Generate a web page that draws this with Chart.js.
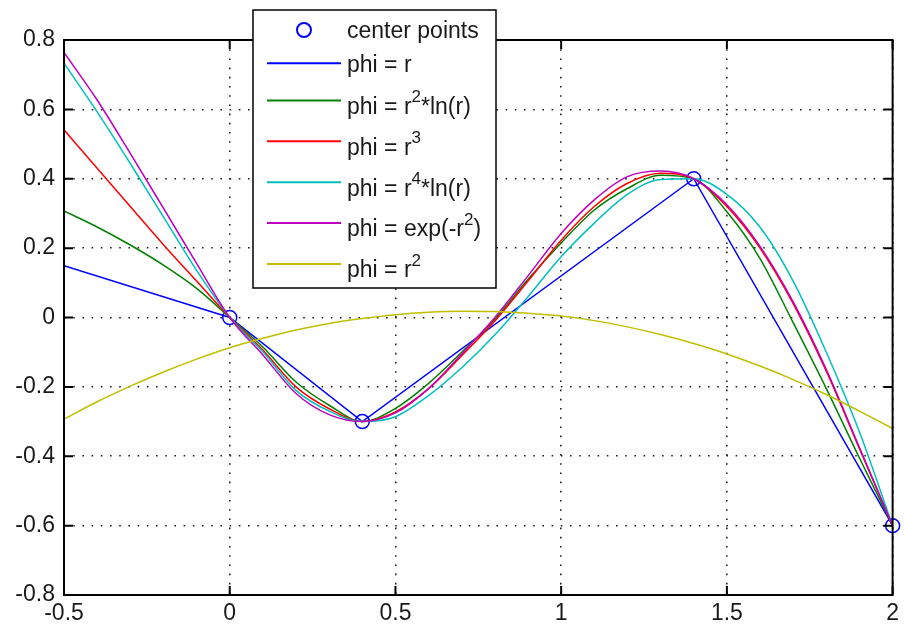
<!DOCTYPE html>
<html>
<head>
<meta charset="utf-8">
<script src="https://cdn.jsdelivr.net/npm/chart.js@4.4.0/dist/chart.umd.min.js"></script>
<style>
  html, body { margin: 0; padding: 0; background: #fff; }
  #wrap { width: 904px; height: 626px; }
</style>
</head>
<body>
<div id="wrap"><canvas id="rbfChart" width="904" height="626"></canvas></div>
<script>
// ─── data ─────────────────────────────────────────────────
const xVals = [-0.5, -0.4, -0.3, -0.2, -0.1, 0, 0.1, 0.2, 0.3, 0.4, 0.5, 0.6, 0.7,
               0.8, 0.9, 1.0, 1.1, 1.2, 1.3, 1.4, 1.5, 1.6, 1.7, 1.8, 1.9, 2.0];

const centerX = [0, 0.4, 1.4, 2];
const centerY = [0, -0.3, 0.4, -0.6];

// phi = r is piecewise linear between its breakpoints
const linX = [-0.5, 0, 0.4, 1.4, 2];
const linY = [0.149, 0, -0.3, 0.4, -0.6];

const tpsY   = [0.307, 0.261, 0.209, 0.151, 0.084, 0, -0.085, -0.186, -0.253, -0.3, -0.262, -0.19, -0.1,
                -0.005, 0.11, 0.215, 0.31, 0.372, 0.41, 0.4, 0.305, 0.17, -0.015, -0.205, -0.405, -0.6];
const cubeY  = [0.541, 0.43, 0.32, 0.21, 0.105, 0, -0.094, -0.2, -0.263, -0.3, -0.272, -0.205, -0.11,
                -0.01, 0.105, 0.223, 0.32, 0.387, 0.416, 0.4, 0.32, 0.2, 0.04, -0.155, -0.378, -0.6];
const r4lnY  = [0.733, 0.593, 0.444, 0.29, 0.136, 0, -0.099, -0.21, -0.27, -0.3, -0.286, -0.225, -0.145,
                -0.05, 0.06, 0.175, 0.272, 0.355, 0.398, 0.4, 0.355, 0.26, 0.105, -0.1, -0.33, -0.6];
const gaussY = [0.764, 0.627, 0.473, 0.315, 0.156, 0, -0.108, -0.219, -0.28, -0.3, -0.275, -0.205, -0.105,
                0.0, 0.12, 0.242, 0.339, 0.406, 0.422, 0.4, 0.325, 0.205, 0.045, -0.15, -0.375, -0.6];
const quadY  = [-0.293, -0.243, -0.198, -0.157, -0.12, -0.087, -0.06, -0.036, -0.017, -0.003, 0.008, 0.015, 0.018,
                0.017, 0.012, 0.004, -0.009, -0.027, -0.049, -0.075, -0.105, -0.14, -0.179, -0.222, -0.27, -0.32];

const legendLabels = ['center points', 'phi = r', 'phi = r^{2}*ln(r)', 'phi = r^{3}',
                      'phi = r^{4}*ln(r)', 'phi = exp(-r^{2})', 'phi = r^{2}'];
const colors = ['#0000ff', '#0000ff', '#008000', '#ff0000', '#00bfbf', '#bf00bf', '#bfbf00'];

const xTicks = [-0.5, 0, 0.5, 1, 1.5, 2];
const yTicks = [-0.8, -0.6, -0.4, -0.2, 0, 0.2, 0.4, 0.6, 0.8];

const FONT = '"Liberation Sans", Arial, sans-serif';
const TXT = '#1a1a1a';

const pts = (xs, ys) => xs.map((x, i) => ({ x, y: ys[i] }));
const curve = (ys, i) => ({
  label: legendLabels[i], data: pts(xVals, ys), borderColor: colors[i],
  borderWidth: 1.5, pointRadius: 0, cubicInterpolationMode: 'monotone', order: 7 - i
});

// box, inward ticks and legend with superscripts
const matlabAxes = {
  id: 'matlabAxes',
  afterDraw(chart) {
    const { ctx, chartArea: a, scales: { x, y } } = chart;
    ctx.save();
    ctx.strokeStyle = '#000';
    ctx.lineWidth = 2;
    ctx.setLineDash([]);
    ctx.strokeRect(a.left, a.top, a.right - a.left, a.bottom - a.top);
    const tl = 9;
    ctx.beginPath();
    xTicks.forEach(v => {
      const px = x.getPixelForValue(v);
      ctx.moveTo(px, a.bottom); ctx.lineTo(px, a.bottom - tl);
      ctx.moveTo(px, a.top); ctx.lineTo(px, a.top + tl);
    });
    yTicks.forEach(v => {
      const py = y.getPixelForValue(v);
      ctx.moveTo(a.left, py); ctx.lineTo(a.left + tl, py);
      ctx.moveTo(a.right, py); ctx.lineTo(a.right - tl, py);
    });
    ctx.stroke();

    // legend
    const L = 253, T = 10, R = 496, B = 288;
    ctx.fillStyle = '#fff';
    ctx.fillRect(L, T, R - L, B - T);
    ctx.lineWidth = 1.5;
    ctx.strokeRect(L, T, R - L, B - T);

    let rowY = 30, prevSup = false;
    legendLabels.forEach((lab, i) => {
      const sup = lab.includes('^');
      if (i > 0) rowY += 33.3 + (prevSup ? 3.8 : 0) + (sup ? 3.8 : 0);
      prevSup = sup;
      ctx.strokeStyle = colors[i];
      ctx.lineWidth = 2;
      if (i === 0) {
        ctx.beginPath(); ctx.arc(304, rowY, 7, 0, Math.PI * 2); ctx.stroke();
      } else {
        ctx.beginPath(); ctx.moveTo(267, rowY); ctx.lineTo(341, rowY); ctx.stroke();
      }
      // text, with ^{..} parts raised
      ctx.fillStyle = TXT;
      ctx.textBaseline = 'middle';
      ctx.textAlign = 'left';
      const mid = rowY + (sup ? 7 : 2);
      let tx = 347;
      lab.split(/(\^\{[^}]*\})/).forEach(part => {
        if (!part) return;
        if (part.startsWith('^{')) {
          const s = part.slice(2, -1);
          ctx.font = '17px ' + FONT;
          ctx.fillText(s, tx, mid - 10);
          tx += ctx.measureText(s).width;
        } else {
          ctx.font = '23px ' + FONT;
          ctx.fillText(part, tx, mid);
          tx += ctx.measureText(part).width;
        }
      });
    });
    ctx.restore();
  }
};

new Chart(document.getElementById('rbfChart'), {
  type: 'line',
  data: {
    datasets: [
      { label: legendLabels[0], data: pts(centerX, centerY), showLine: false,
        pointStyle: 'circle', pointRadius: 7, pointBorderWidth: 1.5,
        pointBorderColor: colors[0], pointBackgroundColor: 'rgba(0,0,0,0)', clip: false, order: 7 },
      { label: legendLabels[1], data: pts(linX, linY), borderColor: colors[1],
        borderWidth: 1.5, pointRadius: 0, tension: 0, order: 6 },
      curve(tpsY, 2),
      curve(cubeY, 3),
      curve(r4lnY, 4),
      curve(gaussY, 5),
      curve(quadY, 6)
    ]
  },
  options: {
    responsive: false,
    animation: false,
    events: [],
    layout: { padding: { top: 40, right: 10, left: 0, bottom: 0 } },
    plugins: { legend: { display: false }, tooltip: { enabled: false } },
    scales: {
      x: {
        type: 'linear', min: -0.5, max: 2,
        afterBuildTicks: s => { s.ticks = xTicks.map(v => ({ value: v })); },
        afterFit: s => { s.height = 31; },
        ticks: { color: TXT, font: { family: FONT, size: 23 }, padding: 5, maxRotation: 0,
                 callback: v => String(+v.toFixed(1)) },
        grid: { color: '#222', lineWidth: 1.6, drawTicks: false },
        border: { display: false, dash: [1.6, 7.6] }
      },
      y: {
        type: 'linear', min: -0.8, max: 0.8,
        afterBuildTicks: s => { s.ticks = yTicks.map(v => ({ value: v })); },
        afterFit: s => { s.width = 64; },
        ticks: { color: TXT, font: { family: FONT, size: 23 }, padding: 9,
                 callback: v => String(+v.toFixed(1)) },
        grid: { color: '#222', lineWidth: 1.6, drawTicks: false },
        border: { display: false, dash: [1.6, 7.6] }
      }
    }
  },
  plugins: [matlabAxes]
});
</script>
</body>
</html>
